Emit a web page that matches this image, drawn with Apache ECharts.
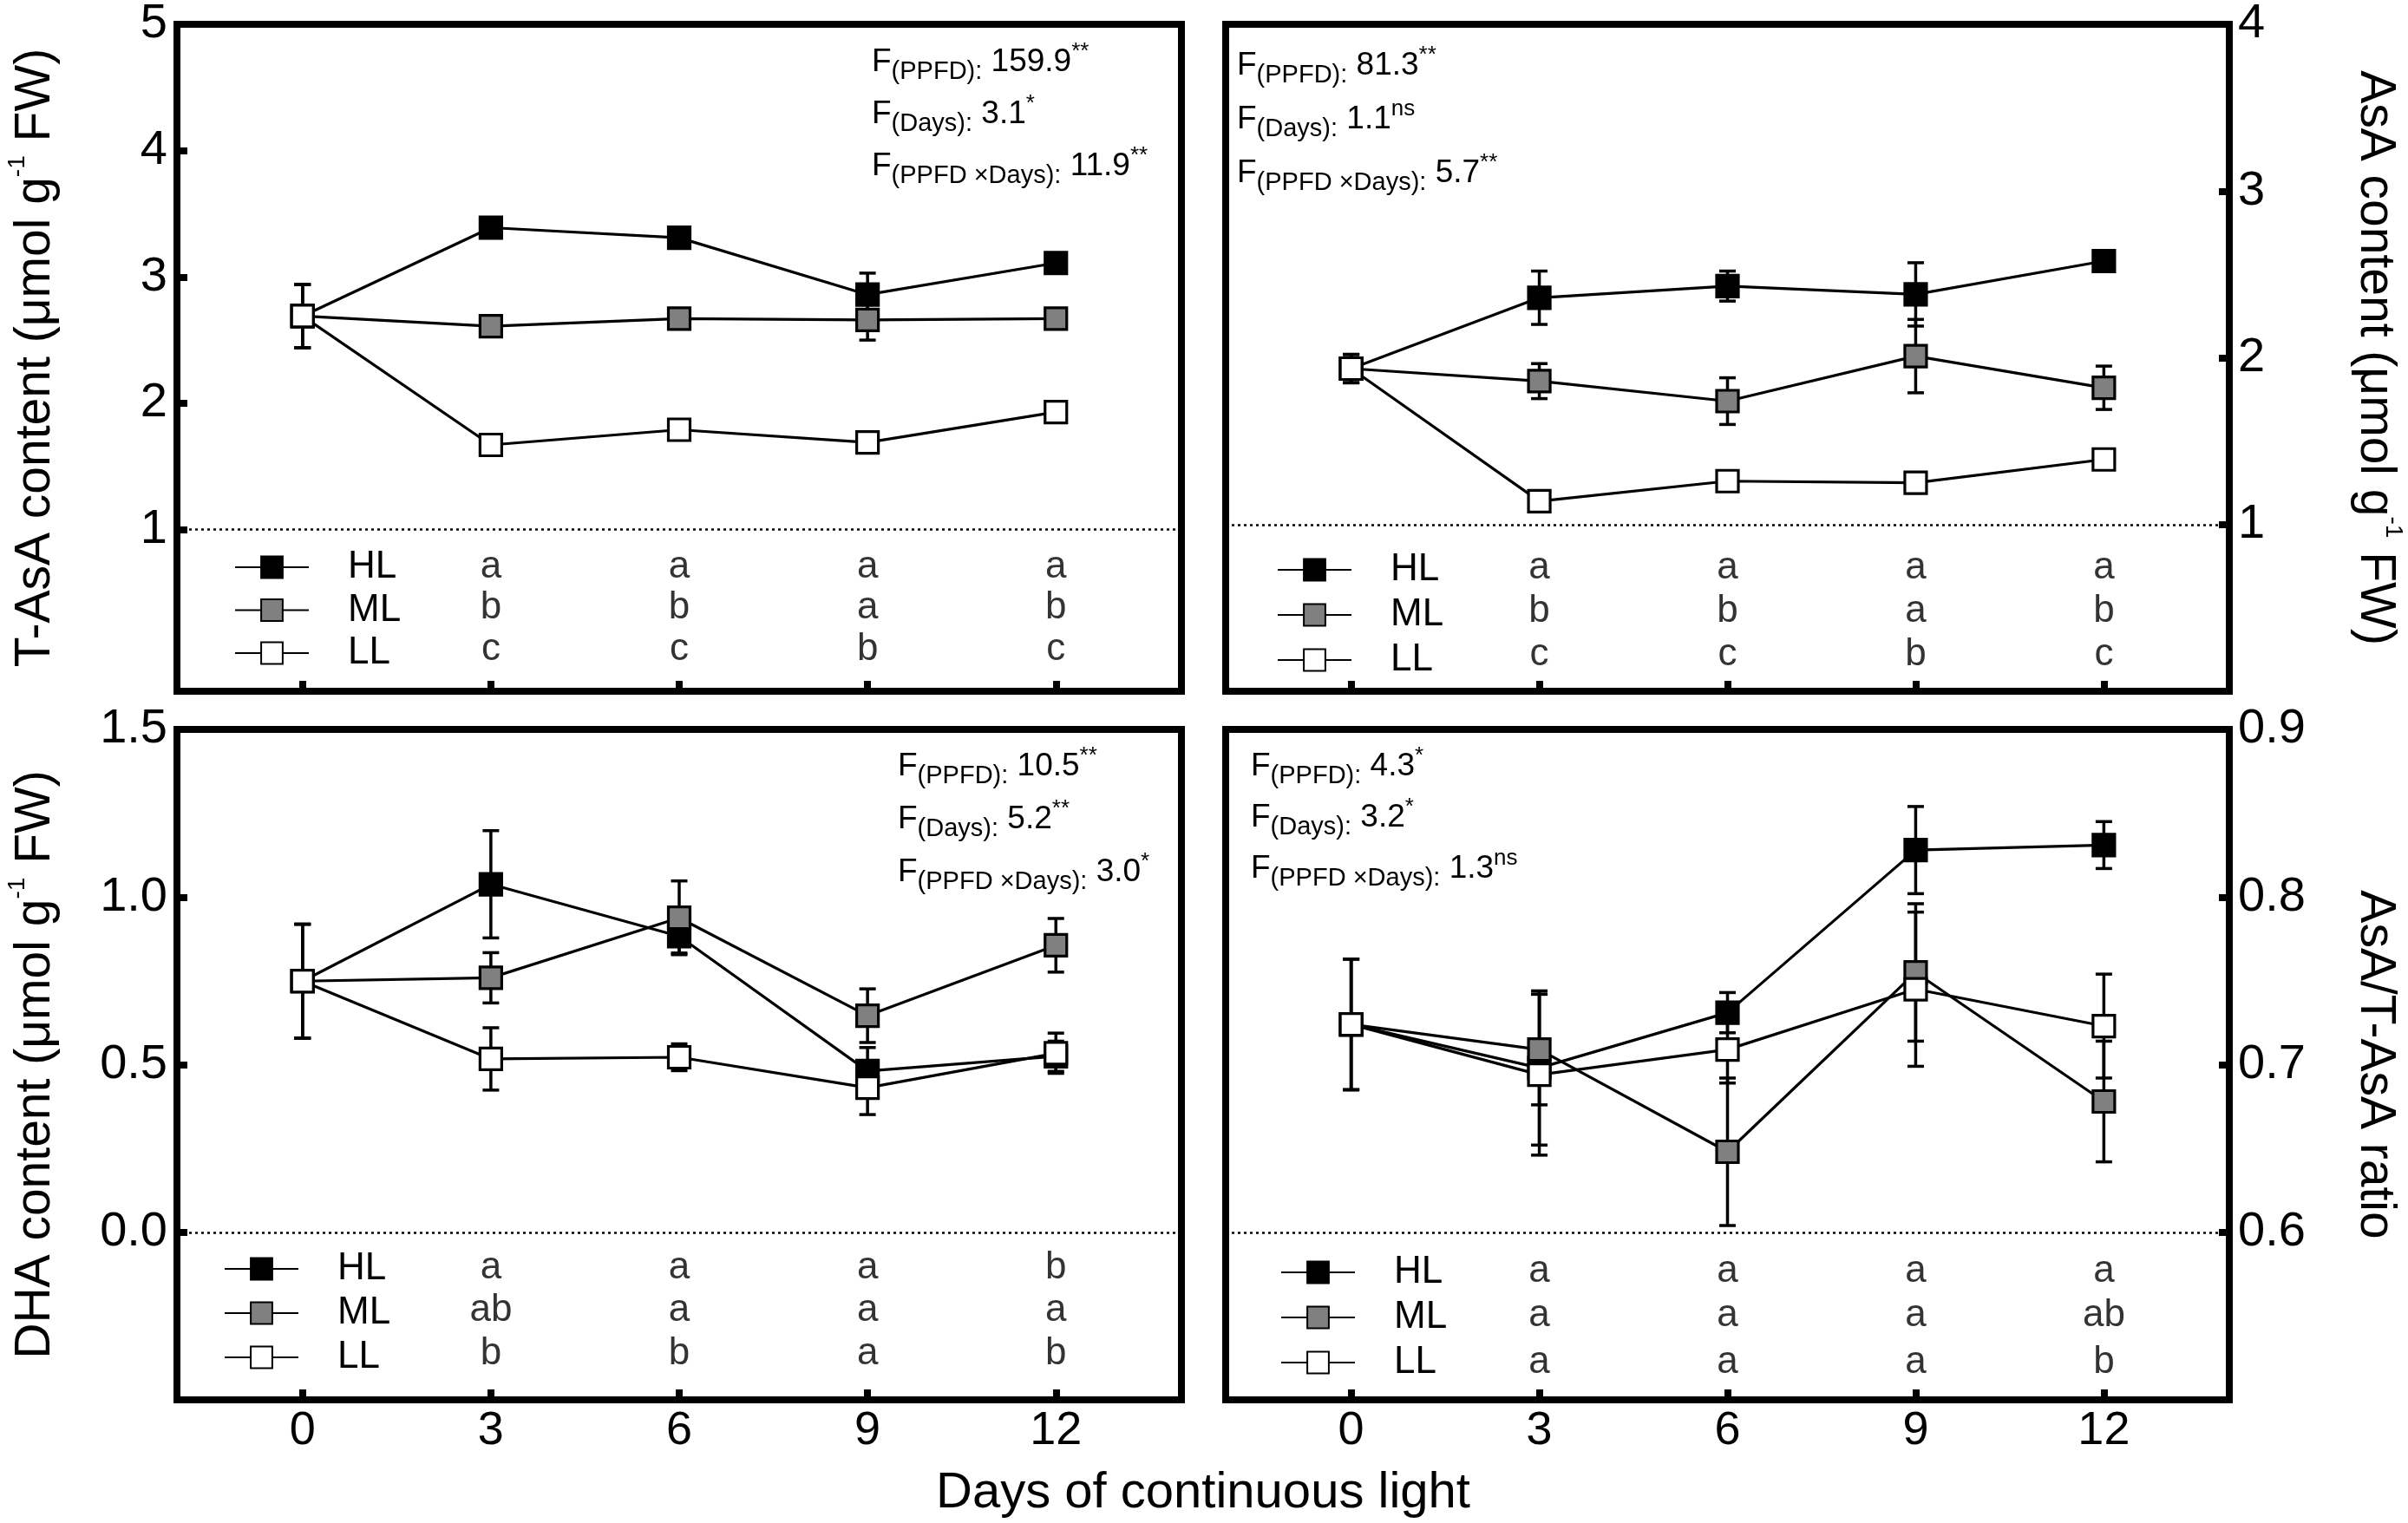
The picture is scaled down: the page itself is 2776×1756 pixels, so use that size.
<!DOCTYPE html>
<html>
<head>
<meta charset="utf-8">
<script src="https://cdn.jsdelivr.net/npm/echarts@6/dist/echarts.min.js"></script>
<style>html,body{margin:0;padding:0;background:#fff}#c{width:2776px;height:1756px}</style>
</head>
<body>
<div id="c"></div>
<script>
// ---------- data ----------
const days = [0, 3, 6, 9, 12];
const letterDays = [3, 6, 9, 12];
const groups = ['HL', 'ML', 'LL'];
const fills = ['#000000', '#808080', '#ffffff'];

// T-AsA content
const tasaHL = [2.69, 3.39, 3.31, 2.86, 3.11];
const tasaHLErr = [0.25, 0.06, 0.06, 0.17, 0.04];
const tasaML = [2.69, 2.61, 2.67, 2.66, 2.67];
const tasaMLErr = [0.25, 0.03, 0.03, 0.16, 0.03];
const tasaLL = [2.69, 1.67, 1.79, 1.69, 1.93];
const tasaLLErr = [0.25, 0.03, 0.05, 0.03, 0.04];
const tasaLetHL = ['a', 'a', 'a', 'a'];
const tasaLetML = ['b', 'b', 'a', 'b'];
const tasaLetLL = ['c', 'c', 'b', 'c'];
const tasaLetRows = [0.70, 0.38, 0.05];
const tasaTicks = [1, 2, 3, 4, 5];
const tasaF = ['159.9', '3.1', '11.9'];
const tasaSig = ['**', '*', '**'];

// AsA content
const asaHL = [1.935, 2.36, 2.43, 2.38, 2.58];
const asaHLErr = [0.085, 0.16, 0.09, 0.19, 0.03];
const asaML = [1.935, 1.86, 1.74, 2.01, 1.82];
const asaMLErr = [0.085, 0.105, 0.14, 0.22, 0.13];
const asaLL = [1.935, 1.14, 1.26, 1.25, 1.39];
const asaLLErr = [0.085, 0.03, 0.05, 0.04, 0.04];
const asaLetHL = ['a', 'a', 'a', 'a'];
const asaLetML = ['b', 'b', 'a', 'b'];
const asaLetLL = ['c', 'c', 'b', 'c'];
const asaLetRows = [0.74, 0.48, 0.22];
const asaTicks = [1, 2, 3, 4];
const asaF = ['81.3', '1.1', '5.7'];
const asaSig = ['**', 'ns', '**'];

// DHA content
const dhaHL = [0.749, 1.038, 0.883, 0.481, 0.525];
const dhaHLErr = [0.17, 0.16, 0.05, 0.07, 0.045];
const dhaML = [0.749, 0.759, 0.938, 0.646, 0.856];
const dhaMLErr = [0.17, 0.075, 0.11, 0.08, 0.08];
const dhaLL = [0.749, 0.517, 0.522, 0.431, 0.534];
const dhaLLErr = [0.17, 0.093, 0.04, 0.08, 0.06];
const dhaLetHL = ['a', 'a', 'a', 'b'];
const dhaLetML = ['ab', 'a', 'a', 'a'];
const dhaLetLL = ['b', 'b', 'a', 'b'];
const dhaLetRows = [-0.107, -0.234, -0.362];
const dhaTicks = [0, 0.5, 1.0, 1.5];
const dhaF = ['10.5', '5.2', '3.0'];
const dhaSig = ['**', '**', '*'];

// AsA/T-AsA ratio
const ratioHL = [0.724, 0.698, 0.731, 0.828, 0.831];
const ratioHLErr = [0.039, 0.046, 0.012, 0.026, 0.014];
const ratioML = [0.724, 0.709, 0.648, 0.755, 0.678];
const ratioMLErr = [0.039, 0.033, 0.044, 0.041, 0.036];
const ratioLL = [0.724, 0.694, 0.709, 0.745, 0.723];
const ratioLLErr = [0.039, 0.048, 0.020, 0.046, 0.031];
const ratioLetHL = ['a', 'a', 'a', 'a'];
const ratioLetML = ['a', 'a', 'a', 'ab'];
const ratioLetLL = ['a', 'a', 'a', 'b'];
const ratioLetRows = [0.5765, 0.5505, 0.5225];
const ratioTicks = [0.6, 0.7, 0.8, 0.9];
const ratioF = ['4.3', '3.2', '1.3'];
const ratioSig = ['*', '*', 'ns'];

const xTicks = [0, 3, 6, 9, 12];
const fLabels = ['PPFD', 'Days', 'PPFD \u00d7Days'];

// ---------- layout ----------
const FONT = "'Liberation Sans', Arial, Helvetica, sans-serif";
const grids = [
  {left: 204, top: 25, width: 1158, height: 772},
  {left: 1413, top: 25, width: 1157, height: 772},
  {left: 204, top: 841, width: 1158, height: 773},
  {left: 1413, top: 841, width: 1157, height: 773}
];

const panelVals = [[tasaHL, tasaML, tasaLL], [asaHL, asaML, asaLL], [dhaHL, dhaML, dhaLL], [ratioHL, ratioML, ratioLL]];
const panelErrs = [[tasaHLErr, tasaMLErr, tasaLLErr], [asaHLErr, asaMLErr, asaLLErr], [dhaHLErr, dhaMLErr, dhaLLErr], [ratioHLErr, ratioMLErr, ratioLLErr]];
const panelLets = [[tasaLetHL, tasaLetML, tasaLetLL], [asaLetHL, asaLetML, asaLetLL], [dhaLetHL, dhaLetML, dhaLetLL], [ratioLetHL, ratioLetML, ratioLetLL]];
const panelRows = [tasaLetRows, asaLetRows, dhaLetRows, ratioLetRows];
const panelDotted = [1, 1, 0, 0.6];
const panelF = [tasaF, asaF, dhaF, ratioF];
const panelSig = [tasaSig, asaSig, dhaSig, ratioSig];
const fPos = [[1005, 72, 60], [1426, 76, 62], [1035, 884, 61], [1442, 884, 59]];
const legendPos = [[270, 632, 5.5], [1472, 635, 8], [258, 1441, 7], [1476, 1445, 8]];

const series = [];
for (let p = 0; p < 4; p++) {
  for (let g = 0; g < 3; g++) {
    const vals = panelVals[p][g], errs = panelErrs[p][g];
    series.push({
      type: 'custom', name: groups[g] + '-err' + p, xAxisIndex: p, yAxisIndex: p, z: 1, silent: true,
      data: days.map((d, i) => [d, vals[i] - errs[i], vals[i] + errs[i]]),
      encode: {x: 0, y: [1, 2]},
      renderItem: function (params, api) {
        const lo = api.coord([api.value(0), api.value(1)]);
        const hi = api.coord([api.value(0), api.value(2)]);
        const cw = 9.5;
        const st = {stroke: '#000', lineWidth: 3.5};
        return {type: 'group', children: [
          {type: 'line', shape: {x1: lo[0], y1: lo[1], x2: hi[0], y2: hi[1]}, style: st},
          {type: 'line', shape: {x1: lo[0] - cw, y1: lo[1], x2: lo[0] + cw, y2: lo[1]}, style: st},
          {type: 'line', shape: {x1: hi[0] - cw, y1: hi[1], x2: hi[0] + cw, y2: hi[1]}, style: st}
        ]};
      }
    });
  }
  for (let g = 0; g < 3; g++) {
    const vals = panelVals[p][g];
    const s = {
      type: 'line', name: groups[g], xAxisIndex: p, yAxisIndex: p, z: 3,
      data: days.map((d, i) => [d, vals[i]]),
      symbol: 'rect', symbolSize: 25, showAllSymbol: true,
      lineStyle: {color: '#000', width: 3.2},
      itemStyle: {color: fills[g], borderColor: '#000', borderWidth: 3.2, opacity: 1},
      emphasis: {disabled: true}
    };
    if (g === 0) {
      s.markLine = {
        silent: true, symbol: 'none', label: {show: false},
        lineStyle: {color: '#000', type: [3, 4], width: 2.5},
        data: [{yAxis: panelDotted[p]}]
      };
    }
    series.push(s);
  }
  for (let g = 0; g < 3; g++) {
    const lets = panelLets[p][g];
    series.push({
      type: 'scatter', name: groups[g] + '-let' + p, xAxisIndex: p, yAxisIndex: p, z: 4, silent: true,
      symbolSize: 1, itemStyle: {color: 'rgba(0,0,0,0)'},
      data: letterDays.map((d, i) => [d, panelRows[p][g], lets[i]]),
      label: {show: true, position: 'inside', formatter: q => q.data[2], fontSize: 44, fontFamily: FONT, color: '#000'}
    });
  }
}

const xAxes = grids.map((gr, i) => ({
  gridIndex: i, type: 'value', min: -2, max: 14,
  axisLine: {show: false, onZero: false},
  splitLine: {show: false},
  axisTick: {show: true, customValues: xTicks, inside: true, length: 12, lineStyle: {color: '#000', width: 8}},
  axisLabel: {show: i >= 2, customValues: xTicks, fontSize: 54, fontFamily: FONT, color: '#000', margin: 9}
}));

const nameRich = {s: {fontSize: 28, lineHeight: 28, verticalAlign: 'top', fontFamily: FONT, color: '#000'}};
function yAxisDef(i, min, max, ticks, name, right, fmt, gap) {
  return {
    gridIndex: i, type: 'value', min: min, max: max, position: right ? 'right' : 'left',
    axisLine: {show: false, onZero: false},
    splitLine: {show: false},
    axisTick: {show: true, customValues: ticks, inside: true, length: 12, lineStyle: {color: '#000', width: 8}},
    axisLabel: {customValues: ticks, fontSize: 56, fontFamily: FONT, color: '#000', margin: right ? 10 : 11,
      formatter: fmt},
    name: name, nameLocation: 'middle', nameGap: gap, nameRotate: right ? -90 : 90,
    nameTextStyle: {fontSize: 57, fontFamily: FONT, color: '#000', lineHeight: 70, rich: nameRich}
  };
}
const yAxes = [
  yAxisDef(0, -0.28, 5, tasaTicks, 'T-AsA content (\u03bcmol g{s|-1} FW)', false, v => String(v), 128),
  yAxisDef(1, 0, 4, asaTicks, 'AsA content (\u03bcmol g{s|-1} FW)', true, v => String(v), 133),
  yAxisDef(2, -0.5, 1.5, dhaTicks, 'DHA content (\u03bcmol g{s|-1} FW)', false, v => v.toFixed(1), 128),
  yAxisDef(3, 0.5, 0.9, ratioTicks, 'AsA/T-AsA ratio', true, v => v.toFixed(1), 133)
];

const legends = legendPos.map(lp => ({
  left: lp[0], top: lp[1], orient: 'vertical', itemGap: lp[2], padding: 0,
  itemWidth: 85, itemHeight: 31, selectedMode: false,
  data: groups,
  formatter: n => '{t|' + n + '}',
  textStyle: {fontSize: 44, fontFamily: FONT, color: '#000',
    rich: {t: {fontSize: 44, lineHeight: 44, fontFamily: FONT, color: '#000', padding: [0, 0, 0, 40]}}}
}));

const fRich = {
  f: {fontSize: 37, lineHeight: 50, verticalAlign: 'middle', fontFamily: FONT, fill: '#000', color: '#000'},
  s: {fontSize: 29, lineHeight: 24, verticalAlign: 'bottom', fontFamily: FONT, fill: '#000', color: '#000'},
  p: {fontSize: 26, lineHeight: 26, verticalAlign: 'top', fontFamily: FONT, fill: '#000', color: '#000'}
};
const graphics = [];
for (let p = 0; p < 4; p++) {
  for (let r = 0; r < 3; r++) {
    graphics.push({
      type: 'text', x: fPos[p][0], y: fPos[p][1] + r * fPos[p][2], z: 10,
      style: {
        text: '{f|F}{s|(' + fLabels[r] + '):}{f| ' + panelF[p][r] + '}{p|' + panelSig[p][r] + '}',
        rich: fRich, fill: '#000', verticalAlign: 'middle', align: 'left', fontFamily: FONT, fontSize: 37
      }
    });
  }
}
graphics.push({
  type: 'text', x: 1387, y: 1722, z: 10,
  style: {text: 'Days of continuous light', fontSize: 58, fontFamily: FONT, fill: '#000', align: 'center', verticalAlign: 'middle'}
});

const chart = echarts.init(document.getElementById('c'), null, {renderer: 'canvas'});
chart.setOption({
  animation: false,
  backgroundColor: '#fff',
  grid: grids.map(g => Object.assign({show: true, borderWidth: 8, borderColor: '#000', backgroundColor: 'transparent', containLabel: false}, g)),
  xAxis: xAxes,
  yAxis: yAxes,
  legend: legends,
  series: series,
  graphic: graphics
});
</script>
</body>
</html>
